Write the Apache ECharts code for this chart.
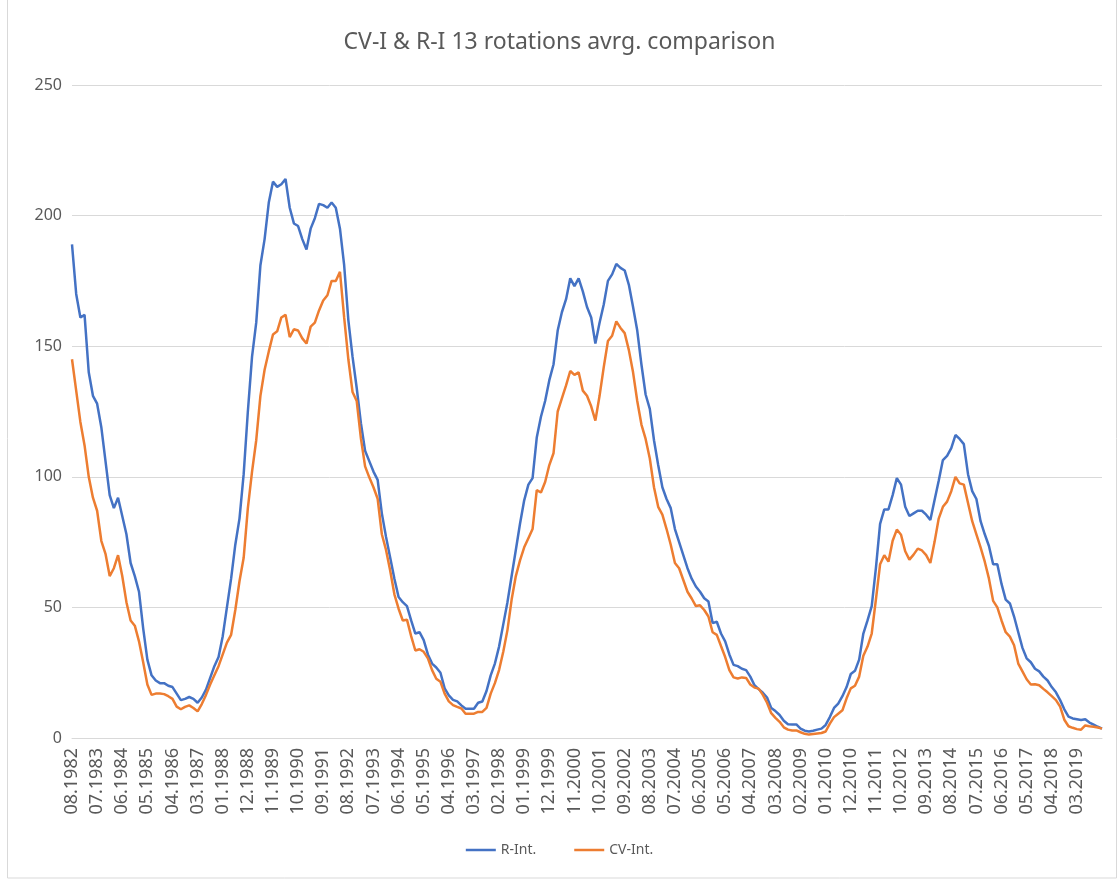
<!DOCTYPE html>
<html>
<head>
<meta charset="UTF-8">
<title>CV-I & R-I 13 rotations avrg. comparison</title>
<script src="https://cdn.jsdelivr.net/npm/echarts@6/dist/echarts.min.js"></script>
<style>
  html, body { margin: 0; padding: 0; background: #fff; }
  #main { width: 1119px; height: 882px; }
</style>
</head>
<body>
<div id="main"></div>
<script>
// one label every 6 points
const tickLabels = ['08.1982', '07.1983', '06.1984', '05.1985', '04.1986', '03.1987', '01.1988', '12.1988',
  '11.1989', '10.1990', '09.1991', '08.1992', '07.1993', '06.1994', '05.1995', '04.1996', '03.1997',
  '02.1998', '01.1999', '12.1999', '11.2000', '10.2001', '09.2002', '08.2003', '07.2004', '06.2005',
  '05.2006', '04.2007', '03.2008', '02.2009', '01.2010', '12.2010', '11.2011', '10.2012', '09.2013',
  '08.2014', '07.2015', '06.2016', '05.2017', '04.2018', '03.2019'];

const rInt = [
  189, 170, 161, 162, 140, 131, 128, 119, 106, 93,
  88, 92, 85, 78, 67, 62, 56, 42, 30, 24,
  22, 21, 21, 20, 19.5, 17, 14.5, 15, 15.7, 15,
  13.5, 15.5, 18.5, 23, 27.5, 31, 39, 50, 61, 74,
  84, 101, 125, 146, 159, 181, 191, 205, 213, 211,
  212, 214, 203, 197, 196, 191, 187, 195, 199, 204.5,
  204, 203, 205, 203, 195, 181, 160, 146, 134, 120.5,
  110, 106, 102, 98.8, 86, 77, 69, 61, 54, 52,
  50.5, 45, 40, 40.5, 37.5, 32, 28.5, 27, 25, 19,
  16.3, 14.6, 14, 12.5, 11.2, 11.2, 11.2, 13.5, 14, 18,
  24, 28.5, 35, 43.5, 52, 62, 72, 82, 91, 97,
  99.5, 115, 123, 129, 137, 143, 156, 163, 168, 176,
  173, 176, 171, 165, 161, 151, 159, 166, 175, 177.5,
  181.5, 180, 179, 173.5, 165, 156, 143, 131.5, 126, 114,
  104.5, 96, 91.5, 88, 80, 75, 70, 65, 61, 58,
  56, 53.5, 52.3, 44, 44.5, 40, 37, 32, 28, 27.5,
  26.5, 26, 23.5, 20.2, 18.7, 17.3, 15.5, 11.5, 10.3, 8.8,
  6.6, 5.3, 5.2, 5.2, 3.6, 2.8, 2.5, 2.8, 3.2, 3.6,
  5, 8, 11.5, 13.2, 16, 19.5, 24.5, 25.7, 30, 40,
  45, 50.5, 65, 82, 87.5, 87.5, 93, 99.5, 97, 88.5,
  85, 86, 87, 87, 85.5, 83.5, 91, 98.5, 106.4, 108,
  111, 116, 114.5, 112.5, 101, 94.5, 91.5, 83, 78, 73.5,
  66.5, 66.5, 59, 53, 51.5, 46.5, 40.5, 34.5, 30.5, 29,
  26.5, 25.5, 23.5, 22, 19.5, 17.5, 14.5, 11, 8.2, 7.5,
  7.2, 6.9, 7.2, 5.9, 5.1, 4.3, 3.6
];

const cvInt = [
  145, 133, 121, 112, 100, 92, 87, 75.5, 70.5, 62,
  65, 70, 62, 52, 45, 43, 37, 29, 20.5, 16.5,
  17, 17, 16.8, 16, 15, 12, 11, 11.9, 12.5, 11.5,
  10.2, 13, 16.5, 20.5, 24, 27.5, 32, 36.5, 39.5, 49,
  60, 69, 88, 102, 114, 131, 141, 148, 154.5, 155.7,
  161, 162, 153.5, 156.5, 156, 153, 151, 157.5, 159, 163.7,
  167.5, 169.5, 175, 175, 178.5, 161, 145, 132.5, 129, 114.7,
  104, 99.8, 96, 91.6, 78, 72, 64, 55, 49.5, 45,
  45.3, 39, 33.5, 34, 33, 30.5, 26, 22.7, 21.5, 17,
  14, 12.6, 11.9, 11.3, 9.3, 9.3, 9.3, 10, 10, 11.5,
  17, 21, 26, 33, 41.3, 53, 62, 68, 73, 76.5,
  80, 94.9, 94, 98, 104.5, 109, 125, 130, 135, 140.5,
  139, 140, 133, 131, 127, 121.5, 131, 142, 152, 154,
  159.5, 157, 155, 148.5, 140, 129, 120, 114.5, 107, 96,
  88.5, 85.5, 80, 74, 67, 65, 60.5, 56, 53.4, 50.5,
  50.8, 49, 46.5, 40.5, 39.5, 35.2, 31, 26, 23.2, 22.8,
  23.2, 23, 20.5, 19.3, 18.9, 16.5, 13.5, 9.5, 7.7, 6.2,
  4.1, 3.2, 2.9, 2.9, 2.2, 1.6, 1.3, 1.5, 1.7, 1.9,
  2.5, 5.5, 8, 9.3, 10.6, 15.2, 19, 20, 23.5, 31.5,
  35, 40, 53, 66.5, 70, 67.5, 75.5, 79.8, 77.8, 71.5,
  68.3, 70.2, 72.5, 71.8, 70, 67, 75, 84, 88.5, 90.5,
  94.5, 100, 97.5, 97, 90, 83, 78, 73, 67.5, 61,
  52.5, 50, 45, 40.5, 38.8, 35.5, 28.5, 25.5, 22.5, 20.5,
  20.6, 20.2, 18.8, 17.5, 16, 14.5, 12, 7, 4.5, 3.9,
  3.4, 3.2, 4.8, 4.5, 4.3, 4, 3.6
];

const step = 6;
const lastIndex = rInt.length - 1;
const textColor = '#595959';
const gridColor = '#d9d9d9';
const font = 'Noto Sans';

const chart = echarts.init(document.getElementById('main'), null, { renderer: 'canvas' });
chart.setOption({
  animation: false,
  backgroundColor: '#fff',
  textStyle: { fontFamily: font },
  title: {
    text: 'CV-I & R-I 13 rotations avrg. comparison',
    left: 'center',
    top: 26,
    textStyle: { fontFamily: font, fontSize: 23, fontWeight: 'normal', color: textColor }
  },
  graphic: [{
    type: 'rect',
    shape: { x: 7.5, y: -2, width: 1109, height: 880 },
    style: { fill: 'none', stroke: gridColor, lineWidth: 1 },
    silent: true
  }],
  grid: { left: 72, right: 17, top: 85, bottom: 144 },
  legend: {
    bottom: 20,
    left: 'center',
    icon: 'rect',
    itemWidth: 30,
    itemHeight: 2.5,
    itemGap: 38,
    textStyle: { fontFamily: font, fontSize: 14, color: textColor },
    data: ['R-Int.', 'CV-Int.']
  },
  xAxis: {
    type: 'value',
    min: 0,
    max: lastIndex,
    interval: step,
    axisLine: { show: true, lineStyle: { color: gridColor, width: 1 } },
    axisTick: { show: false },
    splitLine: { show: false },
    axisLabel: {
      rotate: 90,
      margin: 10,
      fontSize: 18,
      color: textColor,
      showMaxLabel: true,
      formatter: function (v) { return tickLabels[Math.round(v / step)] || ''; }
    }
  },
  yAxis: {
    type: 'value',
    min: 0,
    max: 250,
    interval: 50,
    axisLine: { show: false },
    axisTick: { show: false },
    splitLine: { lineStyle: { color: gridColor, width: 1 } },
    axisLabel: { fontSize: 16, color: textColor, margin: 10 }
  },
  series: [
    {
      name: 'R-Int.',
      type: 'line',
      symbol: 'none',
      data: rInt.map((v, i) => [i, v]),
      lineStyle: { color: '#4472C4', width: 2.5 },
      itemStyle: { color: '#4472C4' }
    },
    {
      name: 'CV-Int.',
      type: 'line',
      symbol: 'none',
      data: cvInt.map((v, i) => [i, v]),
      lineStyle: { color: '#ED7D31', width: 2.5 },
      itemStyle: { color: '#ED7D31' }
    }
  ]
});
</script>
</body>
</html>
